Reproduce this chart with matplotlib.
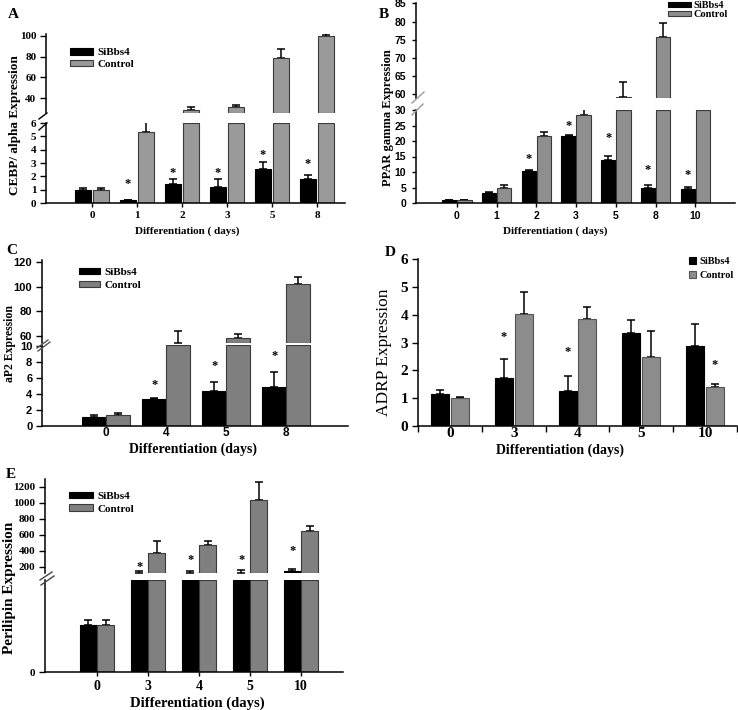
import numpy as np
import matplotlib
matplotlib.use("Agg")
import matplotlib.pyplot as plt
from matplotlib.lines import Line2D
from matplotlib.patches import Patch

# ---------------- data ----------------
A_days = ['0', '1', '2', '3', '5', '8']
A_si = [1.0, 0.2, 1.45, 1.2, 2.55, 1.8]
A_si_err = [0.1, 0.05, 0.35, 0.6, 0.5, 0.3]
A_ctrl = [1.0, 5.3, 28.0, 31.0, 78.5, 100.0]
A_ctrl_err = [0.12, 0.75, 3.0, 2.5, 9.0, 1.5]
A_star_idx = [1, 2, 3, 4, 5]
A_star_y = [1.45, 2.25, 2.25, 3.6, 2.9]

B_days = ['0', '1', '2', '3', '5', '8', '10']
B_si = [0.9, 3.3, 10.3, 21.6, 13.8, 5.0, 4.6]
B_si_err = [0.1, 0.2, 0.3, 0.4, 1.3, 0.9, 0.6]
B_ctrl = [1.0, 4.7, 21.6, 28.3, 59.3, 75.8, 40.0]
B_ctrl_err = [0.1, 1.1, 1.3, 2.5, 4.0, 3.7, 0.0]
B_star_idx = [2, 3, 4, 5, 6]
B_star_y = [14.3, 25.0, 20.9, 10.8, 9.0]

C_days = ['0', '4', '5', '8']
C_si = [1.15, 3.35, 4.35, 4.9]
C_si_err = [0.2, 0.15, 1.1, 1.85]
C_ctrl = [1.35, 54.0, 58.5, 102.0]
C_ctrl_err = [0.3, 10.0, 3.5, 5.5]
C_star_idx = [1, 2, 3]
C_star_y = [5.1, 7.5, 8.8]

D_days = ['0', '3', '4', '5', '10']
D_si = [1.15, 1.72, 1.27, 3.35, 2.88]
D_si_err = [0.13, 0.7, 0.53, 0.47, 0.77]
D_ctrl = [1.0, 4.03, 3.85, 2.47, 1.4]
D_ctrl_err = [0.03, 0.8, 0.42, 0.96, 0.1]
D_star_si_idx = [1, 2]
D_star_si_y = [3.2, 2.66]
D_star_ctrl_idx = [4]
D_star_ctrl_y = [2.2]

E_days = ['0', '3', '4', '5', '10']
E_si = [1.0, 128, 130, 120, 145]
E_si_err = [0.1, 17, 25, 38, 25]
E_ctrl = [1.0, 380, 473, 1042, 655]
E_ctrl_err = [0.1, 148, 47, 223, 63]
E_star_idx = [1, 2, 3, 4]
E_star_y = [205, 293, 293, 402]

series_labels = ['SiBbs4', 'Control']

# ---------------- helpers ----------------
W, H = 738, 710
SERIF = 'Liberation Serif'
SANS = 'Liberation Sans'
fig = plt.figure(figsize=(W / 100, H / 100), dpi=100)
fig.patch.set_facecolor('white')


def R(x0, y0, x1, y1):
    return [x0 / W, 1 - y1 / H, (x1 - x0) / W, (y1 - y0) / H]


def fl(x0, y0, x1, y1, color='k', lw=1.0):
    fig.add_artist(Line2D([x0 / W, x1 / W], [1 - y0 / H, 1 - y1 / H],
                          transform=fig.transFigure, color=color, lw=lw))


def style_ax(ax, family, size, part, ypad=3, xpad=3):
    ax.set_facecolor('white')
    ax.spines['right'].set_visible(False)
    for s in ('left', 'bottom', 'top'):
        ax.spines[s].set_linewidth(1.1)
    ax.tick_params(axis='y', direction='out', length=4, width=1, pad=ypad)
    ax.tick_params(axis='x', direction='out', length=3, width=1, pad=xpad)
    if part == 'upper':
        ax.spines['bottom'].set_visible(False)
        ax.tick_params(axis='x', bottom=False, labelbottom=False)
    ax.spines['top'].set_visible(False)
    for lab in ax.get_yticklabels() + ax.get_xticklabels():
        lab.set_fontfamily(family)
        lab.set_fontsize(size)
        lab.set_fontweight('bold')


def bars(ax, x, vals, errs, off, w, color, edge, ylo, yhi):
    vals = np.asarray(vals, float)
    errs = np.asarray(errs, float)
    m = vals > ylo
    ax.bar(x[m] + off, np.minimum(vals[m], yhi) - ylo, width=w,
           bottom=ylo, color=color, edgecolor=edge, linewidth=0.8, zorder=2)
    ax.errorbar(x + off, vals, yerr=[np.zeros_like(errs), errs], fmt='none',
                ecolor='k', elinewidth=1.1, capsize=3.2, capthick=1.1, zorder=1)


def stars(ax, x, idx, ys, off, size=9):
    for i, y in zip(idx, ys):
        ax.text(x[i] + off, y, '*', ha='center', va='center', fontsize=size,
                fontweight='bold', family=SERIF, zorder=5)


def leg(ax, grey, edge, anchor_px, size, hl, hh, spacing=0.25, tpad=0.4):
    handles = [Patch(facecolor='black', edgecolor='black', linewidth=0.8),
               Patch(facecolor=grey, edgecolor=edge, linewidth=0.8)]
    lg = ax.legend(handles, series_labels, loc='upper left',
                   bbox_to_anchor=(anchor_px[0] / W, 1 - anchor_px[1] / H),
                   bbox_transform=fig.transFigure, frameon=False,
                   borderpad=0, borderaxespad=0, handlelength=hl,
                   handleheight=hh, handletextpad=tpad, labelspacing=spacing,
                   prop={'family': SERIF, 'weight': 'bold', 'size': size})
    return lg


# ================= Panel A =================
xa = np.arange(len(A_days))
A_up_lim, A_lo_lim = (25.5, 101.9), (0, 6)
axA_u = fig.add_axes(R(46, 34, 345, 113))
axA_l = fig.add_axes(R(46, 123, 345, 203))
greyA = '#9a9a9a'
for ax, (lo, hi) in ((axA_u, A_up_lim), (axA_l, A_lo_lim)):
    bars(ax, xa, A_si, A_si_err, -0.2, 0.36, 'black', 'black', lo, hi)
    bars(ax, xa, A_ctrl, A_ctrl_err, 0.2, 0.36, greyA, '#3a3a3a', lo, hi)
    ax.set_ylim(lo, hi)
    ax.set_xlim(-1.02, 5.62)
axA_u.set_yticks([40, 60, 80, 100])
axA_l.set_yticks(range(0, 7))
axA_l.set_xticks(xa)
axA_l.set_xticklabels(A_days)
stars(axA_l, xa, A_star_idx, A_star_y, -0.2)
style_ax(axA_u, SERIF, 8, 'upper')
style_ax(axA_l, SERIF, 8, 'lower')
lgA = leg(axA_u, greyA, '#3a3a3a', (70, 48), 8, 2.1, 0.55, 0.2)
lgA.set_frame_on(True)
lgA.get_frame().set_facecolor('white')
lgA.get_frame().set_edgecolor('white')
fl(39, 119, 47, 113)
fl(39, 130, 47, 123)
fig.text(15 / W, 1 - 125 / H, 'CEBP/ alpha Expression', rotation=90, ha='center',
         va='center', family=SERIF, weight='bold', fontsize=9.5)
fig.text(187 / W, 1 - 231 / H, 'Differentiation ( days)', ha='center', va='center',
         family=SERIF, weight='bold', fontsize=8)
fig.text(8 / W, 1 - 15 / H, 'A', ha='left', va='center', family=SERIF,
         weight='bold', fontsize=11)

# ================= Panel B =================
xb = np.arange(len(B_days))
B_up_lim, B_lo_lim = (59, 85.1), (0, 30)
axB_u = fig.add_axes(R(416, 3, 735, 98))
axB_l = fig.add_axes(R(416, 110, 735, 203))
greyB = '#8e8e8e'
for ax, (lo, hi) in ((axB_u, B_up_lim), (axB_l, B_lo_lim)):
    bars(ax, xb, B_si, B_si_err, -0.19, 0.36, 'black', 'black', lo, hi)
    bars(ax, xb, B_ctrl, B_ctrl_err, 0.19, 0.36, greyB, '#3a3a3a', lo, hi)
    ax.set_ylim(lo, hi)
    ax.set_xlim(-1.03, 7.0)
axB_u.set_yticks(range(60, 86, 5))
axB_l.set_yticks(range(0, 31, 5))
axB_l.set_xticks(xb)
axB_l.set_xticklabels(B_days)
stars(axB_l, xb, B_star_idx, B_star_y, -0.19)
style_ax(axB_u, SANS, 7.5, 'upper', ypad=4)
style_ax(axB_l, SANS, 7.5, 'lower', ypad=4)
axB_u.tick_params(axis='y', length=3)
axB_l.tick_params(axis='y', length=3)
leg(axB_u, greyB, '#3a3a3a', (668, 1), 7.5, 2.2, 0.35, 0.0, 0.25)
fl(412, 103, 424, 92, color='#9a9a9a')
fl(412, 115, 423, 104, color='#9a9a9a')
fig.text(388 / W, 1 - 118 / H, 'PPAR gamma Expression', rotation=90, ha='center',
         va='center', family=SERIF, weight='bold', fontsize=9)
fig.text(555 / W, 1 - 231 / H, 'Differentiation ( days)', ha='center', va='center',
         family=SERIF, weight='bold', fontsize=8)
fig.text(379 / W, 1 - 14 / H, 'B', ha='left', va='center', family=SERIF,
         weight='bold', fontsize=11)

# ================= Panel C =================
xc = np.arange(len(C_days))
C_up_lim, C_lo_lim = (54.3, 121.6), (0, 10.12)
axC_u = fig.add_axes(R(42, 260, 348, 343))
axC_l = fig.add_axes(R(42, 345, 348, 426))
greyC = '#7f7f7f'
for ax, (lo, hi) in ((axC_u, C_up_lim), (axC_l, C_lo_lim)):
    bars(ax, xc, C_si, C_si_err, -0.2, 0.39, 'black', 'black', lo, hi)
    bars(ax, xc, C_ctrl, C_ctrl_err, 0.2, 0.39, greyC, '#3a3a3a', lo, hi)
    ax.set_ylim(lo, hi)
    ax.set_xlim(-1.07, 4.03)
axC_u.set_yticks([60, 80, 100, 120])
axC_l.set_yticks(range(0, 11, 2))
axC_l.set_xticks(xc)
axC_l.set_xticklabels(C_days)
stars(axC_l, xc, C_star_idx, C_star_y, -0.2)
style_ax(axC_u, SANS, 8, 'upper')
style_ax(axC_l, SANS, 8, 'lower', xpad=1)
axC_l.tick_params(axis='x', length=0, labelsize=8.5)
leg(axC_u, greyC, '#3a3a3a', (79, 268), 8, 1.9, 0.5, 0.35)
fl(37, 348, 48, 340, color='#555555')
fl(38, 351, 50, 342, color='#555555')
fig.text(10 / W, 1 - 343 / H, 'aP2 Expression', rotation=90, ha='center',
         va='center', family=SERIF, weight='bold', fontsize=8.5)
fig.text(193 / W, 1 - 449 / H, 'Differentiation (days)', ha='center', va='center',
         family=SERIF, weight='bold', fontsize=10)
fig.text(6 / W, 1 - 250 / H, 'C', ha='left', va='center', family=SERIF,
         weight='bold', fontsize=11)

# ================= Panel D =================
xd = np.arange(len(D_days))
axD = fig.add_axes(R(418, 259, 737, 426))
greyD = '#8c8c8c'
bars(axD, xd, D_si, D_si_err, -0.155, 0.28, 'black', 'black', 0, 6)
bars(axD, xd, D_ctrl, D_ctrl_err, 0.155, 0.28, greyD, '#555555', 0, 6)
axD.set_ylim(0, 6)
axD.set_xlim(-0.5, 4.5)
axD.set_yticks(range(0, 7))
axD.set_xticks(xd)
axD.set_xticklabels(D_days)
axD.set_xticks(np.arange(-0.5, 4.6, 1.0), minor=True)
stars(axD, xd, D_star_si_idx, D_star_si_y, -0.155)
stars(axD, xd, D_star_ctrl_idx, D_star_ctrl_y, 0.155)
style_ax(axD, SERIF, 11, 'lower')
axD.tick_params(axis='x', which='major', length=0, pad=1)
axD.tick_params(axis='x', which='minor', length=4, width=1)
leg(axD, greyD, '#555555', (689, 257), 7.5, 0.65, 0.65, 0.45)
fig.text(384 / W, 1 - 352 / H, 'ADRP Expression', rotation=90, ha='center',
         va='center', family=SERIF, fontsize=12.5)
fig.text(560 / W, 1 - 450 / H, 'Differentiation (days)', ha='center', va='center',
         family=SERIF, weight='bold', fontsize=10)
fig.text(390 / W, 1 - 253 / H, 'D', ha='center', va='center', family=SERIF,
         weight='bold', fontsize=11)

# ================= Panel E =================
xe = np.arange(len(E_days))
E_up_lim, E_lo_lim = (125, 1300), (0, 1.95)
axE_u = fig.add_axes(R(45, 479, 343, 573))
axE_l = fig.add_axes(R(45, 580, 343, 672))
greyE = '#808080'
for ax, (lo, hi) in ((axE_u, E_up_lim), (axE_l, E_lo_lim)):
    bars(ax, xe, E_si, E_si_err, -0.17, 0.33, 'black', 'black', lo, hi)
    bars(ax, xe, E_ctrl, E_ctrl_err, 0.17, 0.33, greyE, '#3a3a3a', lo, hi)
    ax.set_ylim(lo, hi)
    ax.set_xlim(-1.02, 4.82)
axE_u.set_yticks(range(200, 1201, 200))
axE_l.set_yticks([0])
axE_l.set_xticks(xe)
axE_l.set_xticklabels(E_days)
stars(axE_u, xe, E_star_idx, E_star_y, -0.17)
style_ax(axE_u, SERIF, 8, 'upper')
style_ax(axE_l, SERIF, 8, 'lower')
axE_l.tick_params(axis='x', labelsize=10, pad=3)
leg(axE_u, greyE, '#3a3a3a', (69, 492), 8, 2.2, 0.5, 0.3)
fl(40, 580, 52, 572, color='#444444')
fl(41, 585, 54, 576, color='#444444')
fig.text(10 / W, 1 - 588 / H, 'Perilipin Expression', rotation=90, ha='center',
         va='center', family=SERIF, weight='bold', fontsize=11)
fig.text(197 / W, 1 - 703 / H, 'Differentiation (days)', ha='center', va='center',
         family=SERIF, weight='bold', fontsize=10.5)
fig.text(6 / W, 1 - 474 / H, 'E', ha='left', va='center', family=SERIF,
         weight='bold', fontsize=11)

fig.savefig('out.png', dpi=100, facecolor='white')
